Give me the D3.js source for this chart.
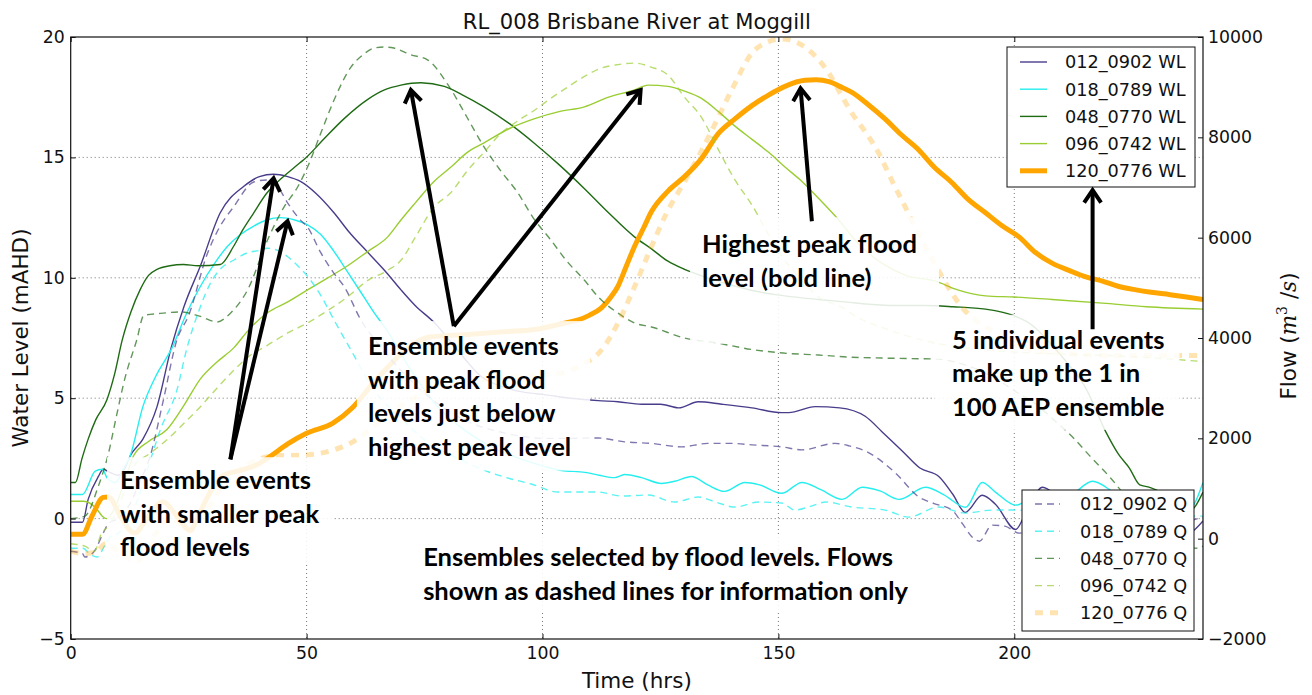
<!DOCTYPE html>
<html><head><meta charset="utf-8">
<script src="https://cdn.jsdelivr.net/npm/d3@7"></script>
<style>body{margin:0;background:#fff}</style>
</head><body>
<svg id="chart" width="1312" height="695" xmlns="http://www.w3.org/2000/svg"></svg>
<script>
// ---------------- DATA ----------------
const chartTitle = "RL_008 Brisbane River at Moggill";
const timeTicks = [0, 50, 100, 150, 200];
const levelTicks = [-5, 0, 5, 10, 15, 20];
const flowTicks = [-2000, 0, 2000, 4000, 6000, 8000, 10000];
const eventIds = ["012_0902", "018_0789", "048_0770", "096_0742", "120_0776"];

// water level (mAHD) : [time hrs, level]
const wl_012_0902 = [[0,-0.15],[2.5,-0.15],[3.7,0.8],[5.9,1.76],[6.9,2.05],[8,1.95],[10,1.8],[11.5,2.1],[12.6,2.6],[15.3,3.3],[18.3,4.65],[21.3,7.1],[24,8.8],[27.5,10.5],[31.7,12.7],[36.7,13.8],[40,14.2],[43,14.3],[46,14.2],[48.7,14.0],[52,13.5],[55.8,12.7],[59,11.9],[63,11.05],[67,10.2],[70,9.5],[73,8.85],[77,8.15],[82,7.0],[87,5.9],[92,5.45],[96,5.25],[100.4,5.15],[106,5.0],[111.8,4.9],[116,4.85],[121,4.75],[125,4.75],[128.9,4.6],[133,4.85],[138,4.75],[144.4,4.6],[150.7,4.4],[152.2,4.4],[157.8,4.65],[163,4.6],[168.4,4.25],[172,3.6],[176.3,2.8],[180,2.1],[184,1.75],[187,1.0],[189.6,0.26],[193.2,0.97],[196,0.6],[200.3,-0.45],[203,0.5],[206,1.3],[210,0.8],[215,0.5],[220,0.9],[226,0.4],[232,0.0],[236,-0.7],[238,-0.5],[240,-0.1]];
const wl_018_0789 = [[0,1.0],[2.5,1.0],[5.2,1.97],[6.7,2.05],[7.7,1.7],[9.5,1.5],[11,2.0],[12.6,2.6],[15.3,4.65],[18,5.9],[21.5,7.1],[24.5,8.5],[27.5,9.65],[30.5,10.6],[33.2,11.3],[36,11.8],[38.8,12.15],[41.5,12.4],[44.5,12.5],[47.5,12.4],[50.2,12.2],[53,11.8],[55.8,11.1],[58.5,10.3],[61.5,9.4],[64.3,8.55],[67.1,7.8],[72,6.2],[78,4.6],[84,3.6],[90,2.9],[95,2.5],[100.4,2.17],[104,2.0],[109,1.92],[112,1.8],[115.3,1.7],[117.4,1.83],[121,1.7],[125.2,1.46],[128,1.55],[131.6,1.75],[135,1.4],[138.6,1.13],[142.9,1.5],[146,1.4],[150.7,1.05],[155,1.5],[159,1.2],[163.5,0.8],[167.8,1.3],[171.5,1.15],[175.6,0.8],[181.2,1.3],[185,1.0],[189.7,0.47],[193.2,1.5],[196,1.1],[200.3,0.56],[206,1.1],[211,0.9],[216.6,1.55],[222,1.0],[228,0.8],[234,0.6],[237,0.4],[240,1.5]];
const wl_048_0770 = [[0,1.5],[1,1.5],[2.4,2.5],[3.7,3.3],[5.3,4.1],[7.7,4.95],[9.3,6.0],[10.9,7.4],[12.8,8.6],[14.7,9.5],[16.5,10.1],[18.3,10.35],[21,10.5],[23.9,10.55],[27,10.5],[31.7,10.55],[34.5,11.3],[36.5,12.0],[38.8,12.7],[41.5,13.5],[44.5,14.1],[47.5,14.6],[50.2,15.05],[53.6,15.75],[57.9,16.6],[62.9,17.4],[66.5,17.8],[70,18.0],[74.2,18.1],[79.2,17.95],[83,17.6],[87.6,17.1],[93,16.4],[98.2,15.6],[103.5,14.7],[108.9,13.7],[114,12.7],[119.5,11.7],[123.1,11.2],[126.5,10.7],[130.1,10.35],[135,10.0],[140,9.7],[145,9.45],[151.4,9.25],[158.5,9.1],[164,9.0],[169.2,8.9],[175,8.85],[181,8.85],[187,8.8],[193.9,8.7],[199.6,8.45],[204,8.0],[208,7.2],[211.5,6.4],[215.2,5.4],[219.4,3.6],[222,2.7],[224.4,2.1],[226.6,1.4],[228.7,1.3],[231,1.1],[234,0.6],[237,0.3],[240,1.1]];
const wl_096_0742 = [[0,0.72],[2.7,0.72],[5.6,0.38],[6.7,0.1],[7.6,0.0],[9,0.3],[11,1.3],[13.3,2.6],[16.5,3.2],[20.4,3.7],[24,4.7],[27.5,5.8],[31,6.5],[34.6,7.1],[38,7.9],[41.7,8.55],[46,9.0],[50.2,9.5],[54.5,10.0],[58.7,10.5],[63,11.1],[67.2,11.7],[70,12.4],[73,13.1],[77,14.0],[80.6,14.6],[84,15.2],[87.6,15.6],[93,16.2],[98.2,16.6],[103.5,16.9],[108.9,17.1],[114,17.5],[119.5,17.8],[122.4,18.0],[126.6,17.95],[130.1,17.75],[133.7,17.45],[137.3,16.9],[140.8,16.3],[144.4,15.75],[148,15.2],[151.4,14.6],[155,14.0],[158.5,13.3],[162.8,12.4],[167,11.4],[172,10.6],[177,10.1],[183.3,9.86],[188,9.5],[193.9,9.25],[200,9.2],[208,9.1],[218.7,8.95],[228,8.8],[240,8.7]];
const wl_120_0776 = [[0,-0.65],[2.5,-0.65],[4.5,0.1],[6.9,0.88],[8,0.9],[10.5,0.1],[13.5,-0.6],[16.5,0.1],[19.5,0.7],[22.5,0.1],[25.4,-0.5],[27,0.1],[29,0.9],[32.4,1.8],[36,2.0],[39.6,2.25],[42.4,2.6],[46,3.1],[50.1,3.55],[55.5,3.95],[59.7,4.6],[64,5.6],[69.3,6.7],[73,7.3],[76.4,7.55],[80,7.6],[84.2,7.65],[91,7.75],[98.3,7.85],[102,8.0],[105.3,8.15],[107.6,8.25],[110,8.45],[112.5,8.75],[114.5,9.2],[116,9.65],[117.8,10.5],[119.5,11.3],[121.5,12.1],[123.1,12.75],[126.6,13.6],[130.1,14.2],[133.7,14.95],[137.3,16.0],[140.8,16.6],[144.4,17.15],[148,17.6],[151.4,17.95],[155.6,18.2],[158,18.22],[160.7,18.15],[163,17.95],[165.6,17.7],[169,17.2],[172.6,16.6],[176,15.95],[179.8,15.3],[183,14.6],[186.8,13.95],[190,13.3],[193.9,12.7],[197.5,12.15],[201,11.7],[204.5,11.05],[208.1,10.6],[211.7,10.3],[215,10.05],[218.7,9.86],[222,9.65],[225.8,9.5],[229,9.4],[233,9.3],[236.5,9.2],[240,9.1]];

// flow (m3/s) : [time hrs, flow]
const q_012_0902 = [[0,-250],[2.5,-300],[3,-365],[5,-250],[6.9,114],[8,300],[10,400],[12.6,700],[14.5,1100],[16.8,1630],[19.5,2700],[22.5,3960],[25,4450],[29,5690],[31.5,6200],[34.5,6610],[38.8,7110],[41.6,7150],[44,7000],[46,6690],[48.7,6350],[50.2,6210],[53,5700],[55.8,5290],[58,5020],[61.5,4360],[65,3900],[70,3350],[75,2900],[80,2550],[85,2300],[90,2150],[95,2050],[100,2000],[106,2000],[111.8,2007],[117.4,1930],[123,1900],[129.5,1830],[135,1900],[140,1900],[144.4,1870],[150.7,1830],[155,1770],[162,1900],[165,1850],[169.2,1710],[174.8,1310],[179.8,830],[183,700],[186.8,570],[189,300],[191.1,30],[192.6,-50],[195.3,270],[198,250],[201.1,110],[206,300],[212,350],[220,250],[228,200],[235,300],[240,430]];
const q_018_0789 = [[0,-190],[2.6,-190],[4,-300],[5.6,-365],[7.3,-125],[8.5,50],[10,100],[12.5,400],[15,1000],[17,1600],[19,2170],[22.5,2960],[24.7,3820],[27,4500],[29.6,5090],[32,5400],[34.5,5550],[37.5,5700],[40.2,5750],[41.6,5790],[44,5740],[46,5620],[48,5450],[50.2,5230],[53,4850],[55.8,4360],[59.4,3760],[64,3000],[70,2400],[76,1900],[82,1600],[89.2,1310],[93,1200],[97.6,1090],[103.3,930],[107,930],[111.8,930],[116.7,850],[122.4,870],[128,730],[133,830],[137,720],[140.8,630],[145.8,730],[150.7,710],[153.5,570],[157,650],[160,730],[165.6,630],[172.6,570],[177.6,430],[184,630],[189.6,510],[195.3,570],[201,570],[210,500],[220,450],[230,450],[240,450]];
const q_048_0770 = [[0,400],[3,450],[5.8,1030],[8,1700],[9.6,2400],[11.5,3200],[14,3960],[15.5,4450],[19,4490],[23.3,4520],[27.5,4430],[31,4320],[33.8,4490],[37.5,4960],[41.7,5950],[45.2,6610],[48.1,7010],[50.2,7410],[53,8080],[55.8,8740],[59.4,9400],[62,9650],[64.3,9780],[66.4,9800],[68.5,9780],[72,9650],[75.7,9540],[80.3,9000],[84,8400],[87.6,7810],[91,7350],[94.8,6890],[98,6400],[101.8,5950],[105,5550],[108.9,5150],[112,4800],[116.1,4490],[119.5,4300],[123.1,4220],[130.1,4000],[137,3900],[144.4,3770],[151,3700],[158.5,3660],[165,3620],[172,3600],[178,3590],[183.3,3580],[190,3450],[195,3250],[200,2950],[205,2650],[208,2400],[212.3,2030],[216,1650],[220.5,1200],[224,800],[228,400],[232,100],[236,-150],[239,-190],[240,-150]];
const q_096_0742 = [[0,-100],[3,-150],[5,-250],[6.5,100],[8,250],[10,600],[13.3,1430],[16.8,1700],[20.4,1970],[24,2300],[27.5,2630],[31,3000],[34.6,3360],[38,3650],[41.6,3850],[46,4100],[50.2,4300],[54.5,4550],[58.7,4820],[63,5150],[67.2,5350],[70,5550],[73,6000],[77,6610],[80.6,6900],[84.2,7350],[87.6,7700],[91.2,8080],[94.8,8330],[98.3,8540],[101.8,8780],[105.3,9000],[109,9220],[112.5,9380],[116,9450],[119.5,9480],[123,9400],[126.6,9240],[130.1,8800],[133.7,8400],[137.3,7750],[140.8,7150],[144.4,6650],[148,6050],[151.4,5550],[155,5150],[158.5,4820],[163.5,4610],[167,4400],[172.6,4190],[177,4050],[183.3,3900],[190,3800],[200,3720],[210,3680],[220,3650],[230,3600],[240,3530]];
const q_120_0776 = [[0,-250],[3,-300],[5.5,-250],[7.5,-100],[10,-250],[14,-450],[18,100],[21,400],[25,200],[29,600],[33,1150],[38,1500],[43,1650],[50.2,1670],[55,1750],[59.8,1930],[65,2300],[70,2650],[76,2950],[82,3100],[90,3200],[98,3250],[104,3300],[108,3450],[112.5,3760],[116,4300],[119.5,5020],[123,5800],[126.3,6490],[130,7100],[133.4,7680],[137,8350],[140.4,9000],[144.4,9680],[147.5,9890],[150.7,9960],[155,9840],[158,9600],[160.7,9280],[163,8900],[165.6,8480],[168.5,8100],[171.3,7680],[174,7150],[176.9,6610],[179.5,6100],[181.9,5690],[184.5,5250],[186.8,4890],[189,4600],[191.8,4360],[196,4100],[201,3820],[210,3700],[220,3650],[230,3650],[240,3650]];

// annotations (text lines, anchor in data units: [time, level])
const annotationLines = [
  ["Ensemble events","with smaller peak","flood levels"],
  ["Ensemble events","with peak flood","levels just below","highest peak level"],
  ["Highest peak flood","level (bold line)"],
  ["5 individual events","make up the 1 in","100 AEP ensemble"],
  ["Ensembles selected by flood levels. Flows","shown as dashed lines for information only"]
];
const annotationAnchors = [[10.45,1.22],[63.0,6.79],[133.8,11.02],[186.8,7.05],[74.7,-1.98]];
const arrowTails = [[33.85,2.46],[33.85,2.46],[81.2,7.99],[81.2,7.99],[157.1,12.35],[216.6,7.86]];
const arrowTips  = [[43.0,14.13],[45.96,12.35],[72.1,17.8],[120.8,17.8],[154.7,17.87],[216.6,13.64]];

// ---------------- STYLE ----------------
const palette = ["#483d8b","#25eeee","#1f6b14","#9acd32","#ffa500"];
const wlWidths = [1.4,1.4,1.4,1.4,5];
const qWidths = [1.4,1.4,1.4,1.4,5];
const qOpacity = [0.7,0.75,0.7,0.7,0.3];
const qDash = ["7,5","7,5","7,5","7,5","8,7"];
// text-box padding [left, above first baseline, right, below last baseline]
const boxPads = [[13,32,13,8],[11,34,19,15],[12,36,22,57],[17,34,15,14],[12,30,12,12]];

const wlSeries = [wl_012_0902, wl_018_0789, wl_048_0770, wl_096_0742, wl_120_0776];
const qSeries = [q_012_0902, q_018_0789, q_048_0770, q_096_0742, q_120_0776];

const M = {l:70.7, r:1203, t:37, b:639};
const svg = d3.select("#chart");
const x = d3.scaleLinear().domain([0,240]).range([M.l, M.r]);
const yL = d3.scaleLinear().domain([-5,20]).range([M.b, M.t]);
const yR = d3.scaleLinear().domain([-2000,10000]).range([M.b, M.t]);

svg.append("rect").attr("width",1312).attr("height",695).attr("fill","#fff");
svg.append("defs").append("clipPath").attr("id","plotclip")
  .append("rect").attr("x",M.l).attr("y",M.t).attr("width",M.r-M.l).attr("height",M.b-M.t);

// grid
const grid = svg.append("g").attr("stroke","#555").attr("stroke-width",1).attr("stroke-dasharray","1,3").attr("opacity",0.8);
grid.selectAll("line.v").data(timeTicks.filter(d=>d>0)).join("line").attr("class","v")
  .attr("x1",d=>x(d)).attr("x2",d=>x(d)).attr("y1",M.t).attr("y2",M.b);
grid.selectAll("line.h").data(levelTicks.filter(d=>d>-5&&d<20)).join("line").attr("class","h")
  .attr("y1",d=>yL(d)).attr("y2",d=>yL(d)).attr("x1",M.l).attr("x2",M.r);

// water level lines
const lineL = d3.line().x(d=>x(d[0])).y(d=>yL(d[1])).curve(d3.curveMonotoneX);
const lineR = d3.line().x(d=>x(d[0])).y(d=>yR(d[1])).curve(d3.curveMonotoneX);
const plot = svg.append("g").attr("clip-path","url(#plotclip)");
wlSeries.forEach((s,i)=>{
  plot.append("path").datum(s).attr("d",lineL).attr("fill","none")
    .attr("stroke",palette[i]).attr("stroke-width",wlWidths[i]).attr("stroke-linejoin","round");
});

// legends
const fontMain = "DejaVu Sans, Liberation Sans, sans-serif";
function legend(g, x0, y0, w, h, rowY, lineX0, lineX1, textX, kind){
  g.append("rect").attr("x",x0).attr("y",y0).attr("width",w).attr("height",h)
    .attr("fill","#fff").attr("stroke","#111").attr("stroke-width",1);
  eventIds.forEach((id,i)=>{
    const yy = rowY + i*27.2;
    const ln = g.append("line").attr("x1",lineX0).attr("x2",lineX1).attr("y1",yy).attr("y2",yy)
      .attr("stroke",palette[i]);
    if(kind==="WL"){ ln.attr("stroke-width",wlWidths[i]); }
    else { ln.attr("stroke-width",qWidths[i]).attr("stroke-dasharray",qDash[i]).attr("opacity",qOpacity[i]); }
    g.append("text").attr("x",textX).attr("y",yy).attr("dy","0.36em")
      .attr("font-family",fontMain).attr("font-size",17.7).attr("fill","#111")
      .text(id+" "+kind);
  });
}
legend(svg.append("g"), 1007, 47, 188, 140, 62, 1020, 1047, 1065, "WL");

// flow lines (twin axis, drawn above)
const plot2 = svg.append("g").attr("clip-path","url(#plotclip)");
qSeries.forEach((s,i)=>{
  plot2.append("path").datum(s).attr("d",lineR).attr("fill","none")
    .attr("stroke",palette[i]).attr("stroke-width",qWidths[i])
    .attr("stroke-dasharray",qDash[i]).attr("opacity",qOpacity[i]);
});
legend(svg.append("g"), 1022, 490, 172, 141, 504, 1035, 1060, 1080, "Q");

// axes
const tickFont = 17.3;
function styleAxis(g){
  g.selectAll("text").attr("font-family",fontMain).attr("font-size",tickFont).attr("fill","#111");
  g.selectAll("line").attr("stroke","#111").attr("stroke-width",1);
  g.select(".domain").remove();
}
svg.append("g").attr("transform",`translate(${M.l},0)`)
  .call(d3.axisLeft(yL).tickValues(levelTicks).tickSizeInner(-5).tickSizeOuter(0).tickPadding(6).tickFormat(d3.format("d")))
  .call(styleAxis);
svg.append("g").attr("transform",`translate(${M.r},0)`)
  .call(d3.axisRight(yR).tickValues(flowTicks).tickSizeInner(-5).tickSizeOuter(0).tickPadding(5).tickFormat(d3.format("d")))
  .call(styleAxis);
svg.append("g").attr("transform",`translate(0,${M.b})`)
  .call(d3.axisBottom(x).tickValues(timeTicks).tickSizeInner(-5).tickSizeOuter(0).tickPadding(8).tickFormat(d3.format("d")))
  .call(styleAxis);
svg.append("g").attr("transform",`translate(0,${M.t})`)
  .call(d3.axisTop(x).tickValues(timeTicks).tickSizeInner(-5).tickSizeOuter(0).tickFormat(""))
  .call(styleAxis);
svg.append("rect").attr("x",M.l).attr("y",M.t).attr("width",M.r-M.l).attr("height",M.b-M.t)
  .attr("fill","none").attr("stroke","#111").attr("stroke-width",1.2);

// titles / labels
svg.append("text").attr("x",(M.l+M.r)/2).attr("y",29).attr("text-anchor","middle")
  .attr("font-family",fontMain).attr("font-size",21.1).attr("fill","#111").text(chartTitle);
svg.append("text").attr("x",(M.l+M.r)/2).attr("y",688).attr("text-anchor","middle")
  .attr("font-family",fontMain).attr("font-size",21.5).attr("fill","#111").text("Time (hrs)");
svg.append("text").attr("transform",`translate(28,${(M.t+M.b)/2}) rotate(-90)`).attr("text-anchor","middle")
  .attr("font-family",fontMain).attr("font-size",21.5).attr("fill","#111").text("Water Level (mAHD)");
const fl = svg.append("text").attr("transform",`translate(1296,336) rotate(-90)`).attr("text-anchor","middle")
  .attr("font-family",fontMain).attr("font-size",21.5).attr("fill","#111");
fl.append("tspan").text("Flow (");
fl.append("tspan").attr("font-family","DejaVu Serif, serif").attr("font-style","italic").text("m");
fl.append("tspan").attr("font-family","DejaVu Serif, serif").attr("font-size",14).attr("dy",-9).text("3");
fl.append("tspan").attr("font-family","DejaVu Serif, serif").attr("dy",9).text(" /");
fl.append("tspan").attr("font-family","DejaVu Serif, serif").attr("font-style","italic").text("s");
fl.append("tspan").text(")");

// annotations
const annFont = "Lato, 'Open Sans', sans-serif";
const probe = svg.append("text").attr("font-family",annFont).attr("font-weight","bold").attr("font-size",24).text("Ensemble events");
const pw = probe.node().getComputedTextLength(); probe.remove();
const annSize = 24*191/pw;
const lineGap = 33.5;
const annLayer = svg.append("g");
annotationLines.forEach((lines,i)=>{
  const g = annLayer.append("g");
  const rect = g.append("rect");
  const t = g.append("text").attr("font-family",annFont).attr("font-weight","bold")
    .attr("font-size",annSize).attr("fill","#000");
  const ax = x(annotationAnchors[i][0]), ay = yL(annotationAnchors[i][1]);
  lines.forEach((ln,j)=>{ t.append("tspan").attr("x",ax).attr("y",ay+j*lineGap).text(ln); });
  const bb = t.node().getBBox();
  const p = boxPads[i];
  const top = ay - p[1], bottom = ay + (lines.length-1)*lineGap + p[3];
  rect.attr("x",bb.x-p[0]).attr("y",top).attr("width",bb.width+p[0]+p[2]).attr("height",bottom-top)
    .attr("fill","#fff").attr("opacity",0.88);
});

const arrows = annLayer.append("g").attr("stroke","#000").attr("stroke-width",4).attr("fill","none");
arrowTails.forEach((tl,i)=>{
  const x0=x(tl[0]), y0=yL(tl[1]), x1=x(arrowTips[i][0]), y1=yL(arrowTips[i][1]);
  const ang = Math.atan2(y1-y0, x1-x0);
  const L = 15, spread = 0.6;
  const b1 = [x1 - L*Math.cos(ang-spread), y1 - L*Math.sin(ang-spread)];
  const b2 = [x1 - L*Math.cos(ang+spread), y1 - L*Math.sin(ang+spread)];
  arrows.append("line").attr("x1",x0).attr("y1",y0).attr("x2",x1-2*Math.cos(ang)).attr("y2",y1-2*Math.sin(ang));
  arrows.append("path").attr("d",`M${b1[0]},${b1[1]}L${x1},${y1}L${b2[0]},${b2[1]}`).attr("stroke-linejoin","miter");
});
</script>
</body></html>
